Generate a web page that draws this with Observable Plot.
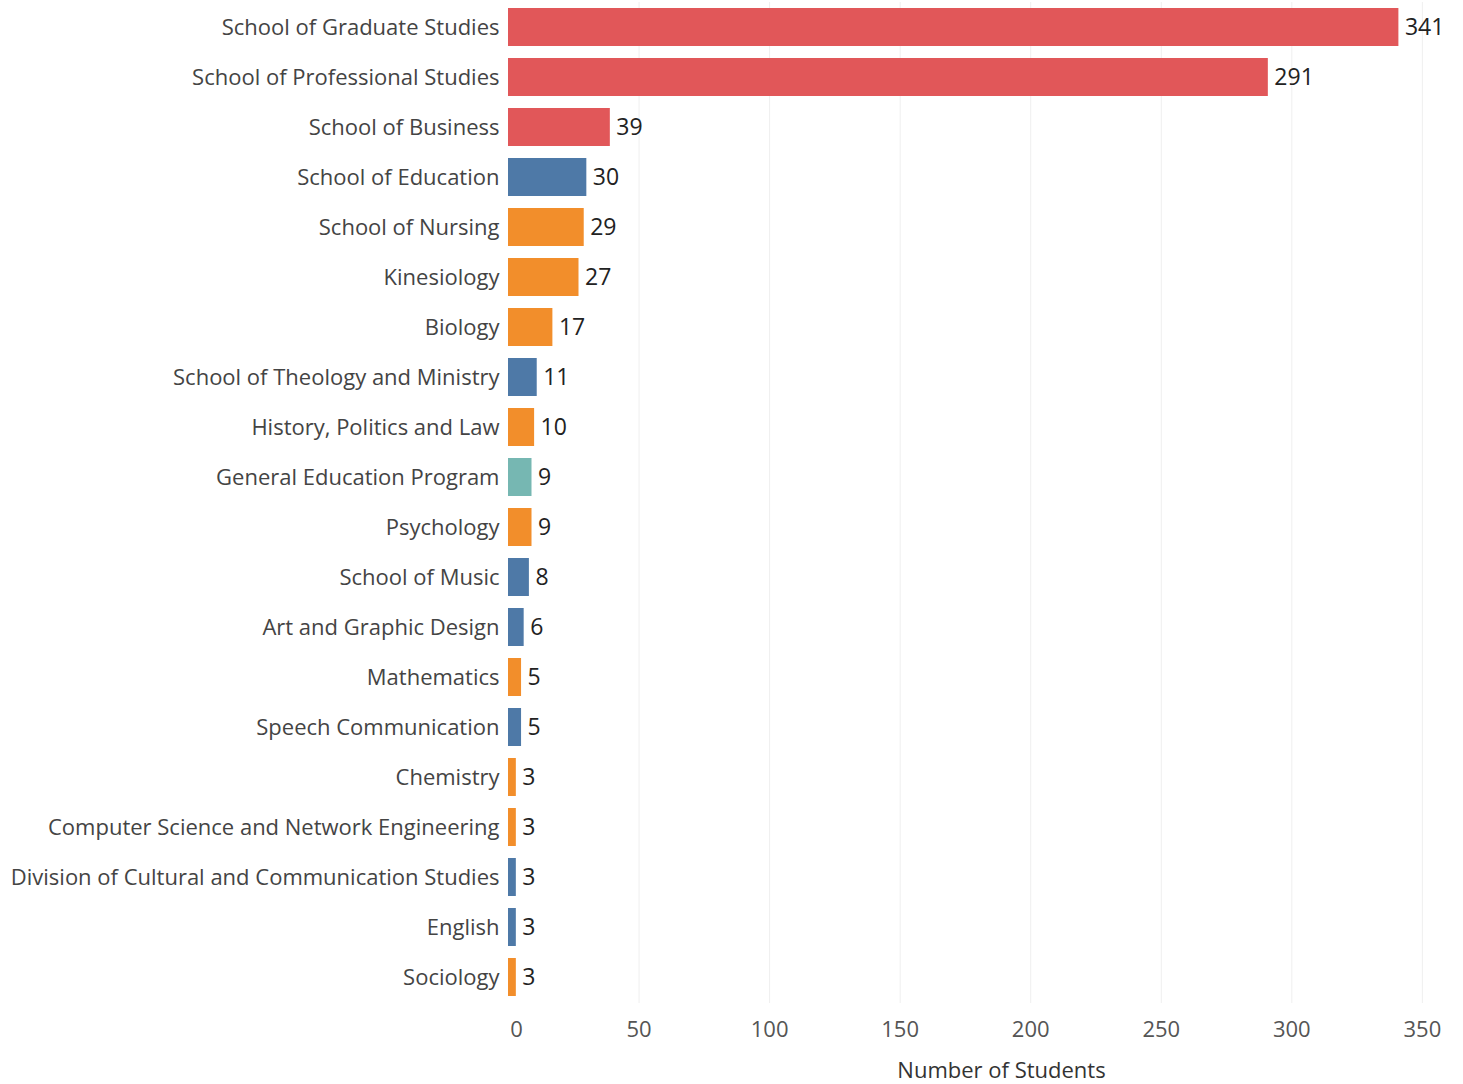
<!DOCTYPE html>
<html>
<head>
<meta charset="utf-8">
<script src="https://cdn.jsdelivr.net/npm/d3@7"></script>
<script src="https://cdn.jsdelivr.net/npm/@observablehq/plot@0.6"></script>
<style>
  html, body { margin: 0; padding: 0; background: #fff; }
  #chart svg { display: block; }
</style>
</head>
<body>
<div id="chart"></div>
<script>
const departments = [
  "School of Graduate Studies", "School of Professional Studies", "School of Business",
  "School of Education", "School of Nursing", "Kinesiology", "Biology",
  "School of Theology and Ministry", "History, Politics and Law", "General Education Program",
  "Psychology", "School of Music", "Art and Graphic Design", "Mathematics",
  "Speech Communication", "Chemistry", "Computer Science and Network Engineering",
  "Division of Cultural and Communication Studies", "English", "Sociology"
];
const students = [341, 291, 39, 30, 29, 27, 17, 11, 10, 9, 9, 8, 6, 5, 5, 3, 3, 3, 3, 3];
const groups = [
  "G1", "G1", "G1",
  "G2", "G3", "G3", "G3",
  "G2", "G3", "G4",
  "G3", "G2", "G2", "G3",
  "G2", "G3", "G3",
  "G2", "G2", "G3"
];
const groupNames = ["G1", "G2", "G3", "G4"];
const groupColors = ["#E15759", "#4E79A7", "#F28E2B", "#76B7B2"];
const xTicks = [0, 50, 100, 150, 200, 250, 300, 350];

const data = departments.map((d, i) => ({ dept: d, n: students[i], group: groups[i] }));

const chart = Plot.plot({
  width: 1463,
  height: 1084,
  marginTop: 2,
  marginBottom: 81,
  marginLeft: 508,
  marginRight: 15,
  style: { fontFamily: "'Open Sans', sans-serif", background: "#fff" },
  x: { domain: [0, 360], ticks: xTicks },
  y: { domain: departments, paddingInner: 0.24, paddingOuter: 0.12 },
  color: { domain: groupNames, range: groupColors },
  marks: [
    Plot.gridX(xTicks.filter(t => t > 0), { stroke: "#efefef", strokeOpacity: 1 }),
    Plot.ruleY([0], { frameAnchor: "bottom", stroke: "#ececec" }),
    Plot.axisX({
      ticks: xTicks, tickSize: 0, tickPadding: 18, fontSize: 22, color: "#555",
      label: "Number of Students", labelAnchor: "center", labelArrow: "none", labelOffset: 74
    }),
    Plot.axisY({ tickSize: 0, tickPadding: 9, fontSize: 22, color: "#444", label: null }),
    Plot.barX(data, { x: "n", y: "dept", fill: "group" }),
    Plot.text(data, {
      x: "n", y: "dept", text: d => String(d.n), textAnchor: "start", dx: 6,
      fontSize: 23, fill: "#222"
    })
  ]
});

// style axis label
chart.querySelectorAll('[aria-label="x-axis label"] text').forEach(t => {
  t.setAttribute("fill", "#333");
  t.setAttribute("font-size", "22");
  t.setAttribute("dx", "23");
});
// the zero tick label sits slightly right of its tick, as in the original
const xTickTexts = chart.querySelectorAll('[aria-label="x-axis tick label"] text');
if (xTickTexts.length) xTickTexts[0].setAttribute("dx", "8");
document.getElementById("chart").appendChild(chart);
</script>
</body>
</html>
